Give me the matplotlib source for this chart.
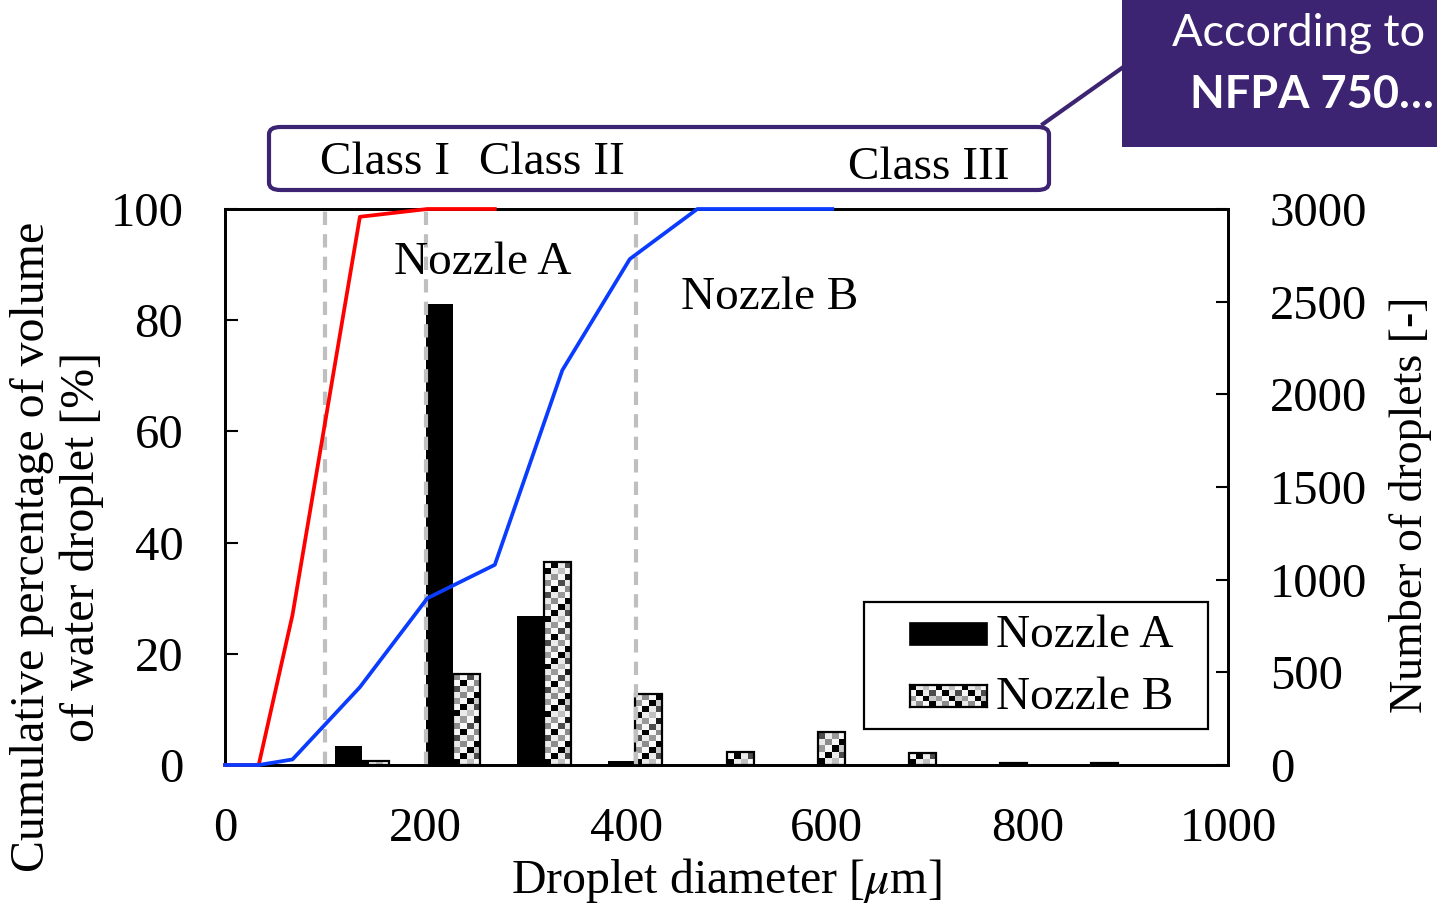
import numpy as np
import matplotlib
matplotlib.use('Agg')
from matplotlib import pyplot as plt
from matplotlib.patches import Rectangle, FancyBboxPatch
from matplotlib.lines import Line2D
from matplotlib.colors import Normalize

plt.rcParams['font.family'] = 'serif'
plt.rcParams['font.serif'] = ['Liberation Serif']
plt.rcParams['mathtext.fontset'] = 'stix'

# cumulative volume curves (left axis, %)
line_x_a = [0, 33.6, 67.3, 134.5, 201.8, 269]
cum_a = [0, 0, 27, 98.6, 100, 100]
line_x_b = [0, 33.6, 67.3, 134.5, 201.8, 269, 336.3, 403.6, 470.9, 538.2, 605.5]
cum_b = [0, 0, 1, 14, 30, 36, 71, 91, 100, 100, 100]

# droplet counts per class bin (right axis)
n_bins = 11
count_a = [0, 100, 2490, 805, 20, 0, 0, 0, 0, 0, 0]
count_b = [0, 20, 490, 1095, 383, 70, 178, 65, 10, 10, 0]
series_names = ['Nozzle A', 'Nozzle B']

class_limits = [100, 200, 410]
class_names = ['Class I', 'Class II', 'Class III']

# checker pattern used for Nozzle B bars
pattern = np.array([
    [0.0, 0.92, 0.75, 0.97],
    [0.97, 0.0, 0.92, 0.3],
    [0.6, 0.97, 0.0, 0.8],
    [0.92, 0.55, 0.97, 0.0],
    [0.3, 0.92, 0.6, 0.97],
    [0.97, 0.0, 0.97, 0.55],
    [0.55, 0.97, 0.3, 0.92],
    [0.92, 0.6, 0.97, 0.1],
])

W, H = 1437, 908
fig = plt.figure(figsize=(W / 100, H / 100), dpi=100)
ax = fig.add_axes([225 / W, 1 - 765 / H, (1228 - 225) / W, (765 - 209) / H])
ax2 = ax.twinx()
ax.set_zorder(ax2.get_zorder() + 1)
ax.patch.set_visible(False)

# bars
cat_w = 1000 / n_bins
bw = 27
centers = (np.arange(n_bins) + 0.5) * cat_w
ax2.bar(centers - bw / 2, count_a, width=bw, color='black', zorder=2)
bars_b = ax2.bar(centers + bw / 2, count_b, width=bw, facecolor='none',
                 edgecolor='black', linewidth=1.6, zorder=3)
px_per_count = (765 - 209) / 3000
for rect, v in zip(bars_b, count_b):
    if v <= 0:
        rect.set_visible(False)
        continue
    rows = max(1, int(round(v * px_per_count / 6)))
    tile = np.tile(pattern, (rows // 8 + 1, 1))[:rows]
    x0 = rect.get_x()
    ax2.imshow(tile, cmap='gray', norm=Normalize(0, 1), origin='lower',
               interpolation='nearest', aspect='auto',
               extent=(x0, x0 + bw, 0, v), zorder=2.5)

ax2.set_ylim(0, 3000)
ax2.set_yticks([0, 500, 1000, 1500, 2000, 2500, 3000])

# lines
for xc in class_limits:
    ax.axvline(xc, color='#bfbfbf', lw=3, linestyle=(0, (3.2, 2.2)), zorder=1)
ax.plot(line_x_a, cum_a, color='#ff0000', lw=2.7, zorder=3, clip_on=False)
ax.plot(line_x_b, cum_b, color='#0a3cff', lw=2.7, zorder=3, clip_on=False)

ax.set_xlim(0, 1000)
ax.set_ylim(0, 100)
ax.set_xticks([0, 200, 400, 600, 800, 1000])
ax.set_yticks([0, 20, 40, 60, 80, 100])

fs = 35
ax.tick_params(axis='y', direction='in', length=9, width=1.5, pad=30, labelsize=fs)
ax.tick_params(axis='x', length=0, pad=30, labelsize=fs)
ax2.tick_params(axis='y', direction='in', length=9, width=1.5, pad=30, labelsize=fs)
for a in (ax, ax2):
    for s in a.spines.values():
        s.set_linewidth(2)

ax.set_xlabel(r'Droplet diameter [$\mu$m]', fontsize=34.5, labelpad=4)
fig.text(57 / W, 1 - 547 / H, 'Cumulative percentage of volume\nof water droplet [%]',
         rotation=90, ha='center', va='center', multialignment='center',
         fontsize=34.5, linespacing=1.15)
fig.text(1410 / W, 1 - 505 / H, 'Number of droplets [-]', rotation=90,
         ha='center', va='center', fontsize=33)

ax.text(257, 90.3, 'Nozzle A', fontsize=34, ha='center', va='center')
ax.text(543, 84.0, 'Nozzle B', fontsize=34, ha='center', va='center')

# legend box, drawn by hand to match the fixed-size frame
ft = fig.transFigure
fig.patches.append(Rectangle((864 / W, 1 - 729 / H), (1208 - 864) / W, (729 - 602) / H,
                             facecolor='white', edgecolor='black', lw=1.6,
                             transform=ft, zorder=5))
fig.patches.append(Rectangle((910 / W, 1 - 645 / H), 77 / W, 22 / H,
                             facecolor='black', edgecolor='black', lw=1.2,
                             transform=ft, zorder=6))
key_ax = fig.add_axes([910 / W, 1 - 707 / H, 77 / W, 22 / H], zorder=6)
key_ax.imshow(np.tile(pattern[:4], (1, 3)), cmap='gray', norm=Normalize(0, 1),
              interpolation='nearest', aspect='auto')
key_ax.set_xticks([])
key_ax.set_yticks([])
for s in key_ax.spines.values():
    s.set_linewidth(1.6)
for name, yp in zip(series_names, [636, 698]):
    fig.text(996 / W, 1 - yp / H, name, fontsize=34, ha='left', va='center', zorder=7)

# class box and callout
purple = '#3c2472'
fig.patches.append(FancyBboxPatch((269 / W, 1 - 190 / H), (1049 - 269) / W, (190 - 127) / H,
                                  boxstyle='round,pad=0,rounding_size=0.008',
                                  facecolor='white', edgecolor=purple, lw=3,
                                  transform=ft))
for name, xp, yp in zip(class_names, [385, 552, 929], [163, 163, 168]):
    fig.text(xp / W, 1 - yp / H, name, fontsize=34, ha='center', va='center')

fig.lines.append(Line2D([1043 / W, 1122 / W], [1 - 124 / H, 1 - 68 / H],
                        color=purple, lw=3, transform=ft))
fig.patches.append(Rectangle((1122 / W, 1 - 147 / H), (W - 1122) / W, 147 / H,
                             facecolor=purple, edgecolor='none', transform=ft))
fig.text(1172 / W, 1 - 33 / H, 'According to', fontsize=32.5, color='white',
         family='Lato', ha='left', va='center')
fig.text(1190 / W, 1 - 95 / H, 'NFPA 750\u2026', fontsize=32.5, color='white',
         family='Lato', fontweight='bold', ha='left', va='center')

fig.savefig('out.png', dpi=100)
